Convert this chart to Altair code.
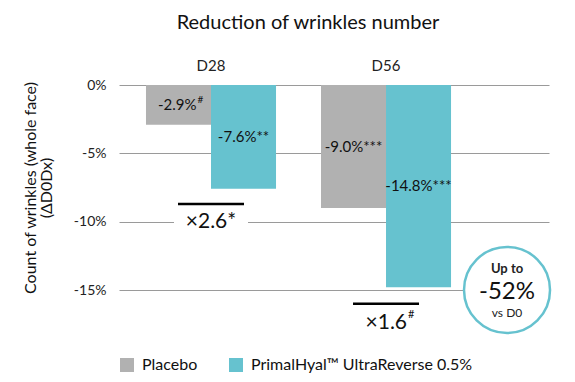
import altair as alt
import pandas as pd

days = ["D28", "D56"]
series = ["Placebo", "PrimalHyal™ UltraReverse 0.5%"]
placebo = [-2.9, -9.0]
primal = [-7.6, -14.8]
placebo_marks = ["#", "***"]
primal_marks = ["**", "***"]
ratios = ["×2.6", "×1.6"]
ratio_marks = ["*", "#"]
ratio_line = [-8.7, -16.0]
ratio_text = [-10.0, -17.4]
y_ticks = [0, -5, -10, -15]
badge = ["Up to", "-52%", "vs D0"]

GRAY = "#b1b1b1"
TEAL = "#66c2cf"
FONT = "Lato"

rows = []
for i, d in enumerate(days):
    rows.append(dict(day=d, series=series[0], value=placebo[i], mark=placebo_marks[i]))
    rows.append(dict(day=d, series=series[1], value=primal[i], mark=primal_marks[i]))
bars_df = pd.DataFrame(rows)
cmp_df = pd.DataFrame(dict(day=days, ratio=ratios, mark=ratio_marks,
                           line=ratio_line, text=ratio_text))

x_enc = alt.X("day:N", sort=days,
              scale=alt.Scale(paddingInner=0.257, paddingOuter=0.357, align=0.216),
              axis=alt.Axis(orient="top", title=None, ticks=False, domain=False,
                            labelAngle=0, labelFontSize=15, labelPadding=12,
                            labelColor="#222", labelFont=FONT))
xoff = alt.XOffset("series:N", sort=series,
                   scale=alt.Scale(paddingInner=0, paddingOuter=0))
y_scale = alt.Scale(domain=[-15, 0], nice=False)

base = alt.Chart(bars_df)

bars = base.mark_bar().encode(
    x=x_enc,
    xOffset=xoff,
    y=alt.Y("value:Q", scale=y_scale,
            axis=alt.Axis(values=y_ticks, labelExpr="datum.value + '%'",
                          grid=True, gridColor="#9a9a9a", gridWidth=1,
                          ticks=False, domain=False, labelPadding=13,
                          labelFontSize=14, labelColor="#222",
                          title=["Count of wrinkles (whole face)", "(ΔD0Dx)"],
                          titleFontSize=16, titleFontWeight="normal",
                          titleColor="#111", titlePadding=19, titleLineHeight=16)),
    color=alt.Color("series:N", sort=series,
                    scale=alt.Scale(domain=series, range=[GRAY, TEAL]),
                    legend=alt.Legend(orient="bottom", direction="horizontal",
                                      title=None, symbolType="square",
                                      symbolSize=196, symbolStrokeWidth=0,
                                      labelFontSize=16, labelColor="#111",
                                      columnPadding=30, labelLimit=400,
                                      labelOffset=7, offset=67)),
)

labels_base = base.transform_calculate(
    mid="datum.value / 2",
    num="'-' + format(abs(datum.value), '.1f') + '%'",
    full="'-' + format(abs(datum.value), '.1f') + '%' + datum.mark",
)

labels_plain = labels_base.transform_filter("datum.mark != '#'").mark_text(
    fontSize=15, color="#111").encode(
    x="day:N", xOffset=xoff, y=alt.Y("mid:Q", scale=y_scale), text="full:N")

labels_hash = labels_base.transform_filter("datum.mark == '#'").mark_text(
    fontSize=15, color="#111", align="right", dx=18).encode(
    x="day:N", xOffset=xoff, y=alt.Y("mid:Q", scale=y_scale), text="num:N")

labels_hash_sup = labels_base.transform_filter("datum.mark == '#'").mark_text(
    fontSize=10, color="#111", align="left", dx=19, dy=-5).encode(
    x="day:N", xOffset=xoff, y=alt.Y("mid:Q", scale=y_scale), text="mark:N")

cmp = alt.Chart(cmp_df)

mask = cmp.mark_tick(orient="horizontal", size=74, thickness=5, color="white",
                     opacity=1).encode(x="day:N", y=alt.Y("text:Q", scale=y_scale))
cmp_line = cmp.mark_tick(orient="horizontal", size=66, thickness=2.5, color="black",
                         opacity=1).encode(x="day:N", y=alt.Y("line:Q", scale=y_scale))

cmp_star = cmp.transform_filter("datum.mark != '#'").transform_calculate(
    full="datum.ratio + datum.mark").mark_text(fontSize=21, color="#111").encode(
    x="day:N", y=alt.Y("text:Q", scale=y_scale), text="full:N")

cmp_hash = cmp.transform_filter("datum.mark == '#'").mark_text(
    fontSize=21, color="#111", align="right", dx=21).encode(
    x="day:N", y=alt.Y("text:Q", scale=y_scale), text="ratio:N")
cmp_hash_sup = cmp.transform_filter("datum.mark == '#'").mark_text(
    fontSize=11, color="#111", align="left", dx=22, dy=-8).encode(
    x="day:N", y=alt.Y("text:Q", scale=y_scale), text="mark:N")

badge_x = alt.datum(days[-1])
badge_y = alt.datum(y_ticks[-1], scale=y_scale)
circle = alt.Chart().mark_circle(size=7400, fill="white", stroke=TEAL,
                                 strokeWidth=2.5, opacity=1, xOffset=121).encode(
    x=badge_x, y=badge_y)
b1 = alt.Chart().mark_text(fontSize=13, fontWeight="bold", color="#222",
                           dx=121, dy=-21).encode(x=badge_x, y=badge_y, text=alt.datum(badge[0]))
b2 = alt.Chart().mark_text(fontSize=24, color="#111",
                           dx=121, dy=2).encode(x=badge_x, y=badge_y, text=alt.datum(badge[1]))
b3 = alt.Chart().mark_text(fontSize=12, color="#222",
                           dx=121, dy=23).encode(x=badge_x, y=badge_y, text=alt.datum(badge[2]))

chart = alt.layer(
    bars, labels_plain, labels_hash, labels_hash_sup,
    mask, cmp_line, cmp_star, cmp_hash, cmp_hash_sup,
    circle, b1, b2, b3,
).properties(
    width=430, height=205,
    title=alt.Title("Reduction of wrinkles number", fontSize=20, fontWeight="normal",
                    color="#111", anchor="middle", offset=25, dx=-26),
    padding={"left": 14, "top": 5, "right": 5, "bottom": 5},
).configure(font=FONT).configure_view(stroke=None)

chart.save("out.html", embed_options={"renderer": "svg", "actions": False})
